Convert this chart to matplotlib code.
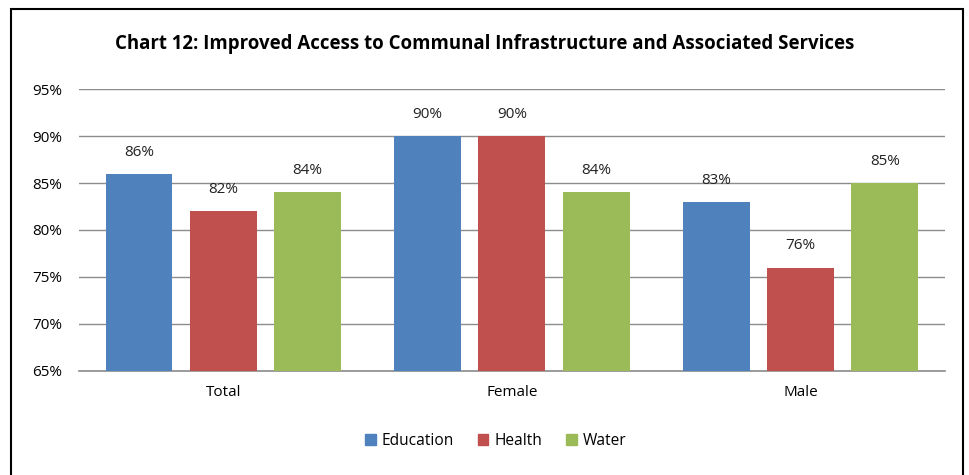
import matplotlib
matplotlib.use("Agg")
import matplotlib.pyplot as plt
from matplotlib.patches import Rectangle
import numpy as np

categories = ["Total", "Female", "Male"]
series_names = ["Education", "Health", "Water"]
education = [86, 90, 83]
health = [82, 90, 76]
water = [84, 84, 85]
yticks = [65, 70, 75, 80, 85, 90, 95]
colors = ["#4F81BD", "#C0504D", "#9BBB59"]

plt.rcParams['font.family'] = ['Open Sans', 'DejaVu Sans']

fig = plt.figure(figsize=(9.7, 4.75), dpi=100)
ax = fig.add_axes([0.0814, 0.219, 0.974 - 0.0814, 0.8126 - 0.219])

x = np.arange(len(categories))
width = 0.232
step = 0.292
for i, (vals, name, c) in enumerate(zip([education, health, water], series_names, colors)):
    pos = x + (i - 1) * step
    ax.bar(pos, [v - 65 for v in vals], width, bottom=65, color=c, label=name, zorder=3)
    for p, v in zip(pos, vals):
        ax.text(p, v + 1.5, f"{v}%", ha="center", va="bottom", fontsize=11, color="#222222")

ax.set_xlim(-0.5, 2.5)
ax.set_ylim(65, 95)
ax.set_yticks(yticks)
ax.set_yticklabels([f"{t}%" for t in yticks], fontsize=11)
ax.set_xticks(x)
ax.set_xticklabels(categories, fontsize=11)
ax.tick_params(axis="both", length=0, pad=12)
ax.tick_params(axis="x", pad=10)
ax.yaxis.grid(True, color="#8C8C8C", linewidth=1.0, zorder=0)
for s in ["left", "right", "top"]:
    ax.spines[s].set_visible(False)
ax.spines["bottom"].set_color("#8C8C8C")
ax.spines["bottom"].set_linewidth(1.2)

fig.text(0.5, 1 - 44 / 475, "Chart 12: Improved Access to Communal Infrastructure and Associated Services",
         ha="center", va="center", fontsize=13.4, fontweight="bold")

handles = [Rectangle((0, 0), 1, 1, color=c) for c in colors]
fig.legend(handles, series_names, loc="center", bbox_to_anchor=(0.511, 1 - 441 / 475), ncol=3,
           frameon=False, fontsize=11.2, handlelength=0.7, handleheight=0.7, handletextpad=0.4,
           columnspacing=1.5)

fig.add_artist(Rectangle((11 / 970, -0.05), (963 - 11) / 970, 1 - 9 / 475 + 0.05, transform=fig.transFigure,
                         fill=False, edgecolor="black", linewidth=1.5))

fig.savefig("out.png", dpi=100)
